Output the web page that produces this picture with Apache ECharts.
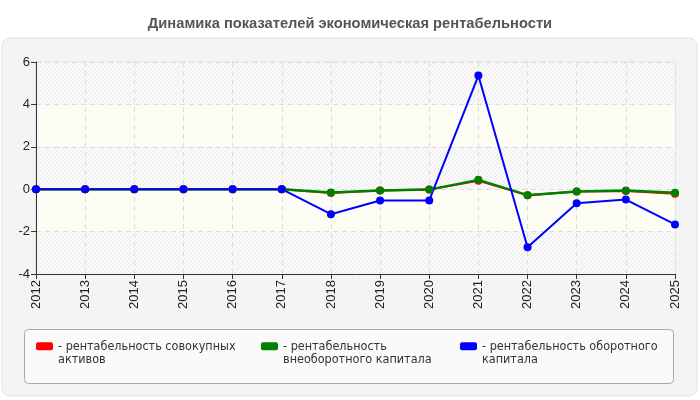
<!DOCTYPE html>
<html>
<head>
<meta charset="utf-8">
<script src="https://cdn.jsdelivr.net/npm/echarts@6/dist/echarts.min.js"></script>
<style>
  html, body { margin: 0; padding: 0; background: #fff; }
  #chart { width: 700px; height: 400px; }
</style>
</head>
<body>
<div id="chart"></div>
<script>
var years = ['2012', '2013', '2014', '2015', '2016', '2017', '2018', '2019', '2020', '2021', '2022', '2023', '2024', '2025'];
var totalAssets = [0, 0, 0, 0, 0, 0, -0.18, -0.06, -0.02, 0.40, -0.28, -0.11, -0.08, -0.21];
var fixedCapital = [0, 0, 0, 0, 0, 0, -0.16, -0.06, -0.02, 0.44, -0.28, -0.11, -0.06, -0.17];
var workingCapital = [0, 0, 0, 0, 0, 0, -1.18, -0.53, -0.53, 5.36, -2.74, -0.66, -0.49, -1.66];
var names = ['рентабельность совокупных\nактивов', 'рентабельность\nвнеоборотного капитала', 'рентабельность оборотного\nкапитала'];

// штриховка для фона
var hatch = document.createElement('canvas');
hatch.width = 4; hatch.height = 4;
var hc = hatch.getContext('2d');
hc.fillStyle = '#fafafa';
hc.fillRect(0, 0, 4, 4);
hc.strokeStyle = '#e9e9e9';
hc.lineWidth = 1;
hc.beginPath();
hc.moveTo(0, 4); hc.lineTo(4, 0);
hc.moveTo(-2, 2); hc.lineTo(2, -2);
hc.moveTo(2, 6); hc.lineTo(6, 2);
hc.stroke();

var chartDom = document.getElementById('chart');
var myChart = echarts.init(chartDom);
var font = 'Liberation Sans Narrow, DejaVu Sans Condensed, sans-serif';

function makeSeries(name, data, color, width) {
  return {
    name: name,
    type: 'line',
    data: data,
    symbol: 'circle',
    symbolSize: 8,
    lineStyle: { color: color, width: width },
    itemStyle: { color: color },
    animation: false
  };
}

function makeLegend(name, left) {
  return {
    data: [name],
    left: left,
    top: 321,
    orient: 'horizontal',
    icon: 'roundRect',
    itemWidth: 17,
    itemHeight: 8,
    // пустая первая строка, чтобы значок стоял напротив первой строки текста
    formatter: ' \n- {name}',
    textStyle: { color: '#333', fontSize: 12.5, fontFamily: font, lineHeight: 13.5 },
    selectedMode: false
  };
}

var option = {
  backgroundColor: '#fff',
  title: {
    text: 'Динамика показателей экономическая рентабельности',
    left: 'center',
    top: 11,
    textStyle: { fontSize: 14.7, fontWeight: 'bold', color: '#555', fontFamily: 'Liberation Sans, Arial, sans-serif' }
  },
  graphic: [
    {
      type: 'rect', z: -10,
      shape: { x: 2, y: 38, width: 695, height: 358, r: 8 },
      style: { fill: '#f4f4f4', stroke: '#e2e2e2', lineWidth: 1 }
    },
    {
      type: 'rect', z: -5,
      shape: { x: 24.5, y: 329.5, width: 649, height: 54, r: 4 },
      style: { fill: '#fafafa', stroke: '#aaaaaa', lineWidth: 1 }
    }
  ],
  legend: [
    makeLegend(names[0], 31),
    makeLegend(names[1], 256),
    makeLegend(names[2], 455)
  ],
  grid: { left: 36, right: 25, top: 62, bottom: 126, show: true, backgroundColor: 'transparent', borderColor: '#dddddd', borderWidth: 1 },
  xAxis: {
    type: 'category',
    data: years,
    boundaryGap: false,
    axisLine: { onZero: false, lineStyle: { color: '#333', width: 1 } },
    axisTick: { show: true, alignWithLabel: true, length: 5, lineStyle: { color: '#333' } },
    axisLabel: { rotate: 90, color: '#222', fontSize: 13, fontFamily: 'Liberation Sans, Arial, sans-serif', margin: 6 },
    splitLine: { show: true, lineStyle: { color: '#dddddd', type: [5, 4] } }
  },
  yAxis: {
    type: 'value',
    min: -4,
    max: 6,
    interval: 2,
    axisLine: { show: true, lineStyle: { color: '#333', width: 1 } },
    axisTick: { show: true, length: 5, lineStyle: { color: '#333' } },
    axisLabel: { color: '#222', fontSize: 13, fontFamily: 'Liberation Sans, Arial, sans-serif', margin: 6 },
    splitLine: { show: true, lineStyle: { color: '#dddddd', type: [5, 4] } },
    splitArea: {
      show: true,
      areaStyle: { color: [{ image: hatch, repeat: 'repeat' }, '#fdfdf5'] }
    }
  },
  series: [
    makeSeries(names[0], totalAssets, '#ff0000', 2),
    makeSeries(names[1], fixedCapital, '#008000', 2.5),
    makeSeries(names[2], workingCapital, '#0000ff', 2)
  ]
};

option && myChart.setOption(option);
</script>
</body>
</html>
